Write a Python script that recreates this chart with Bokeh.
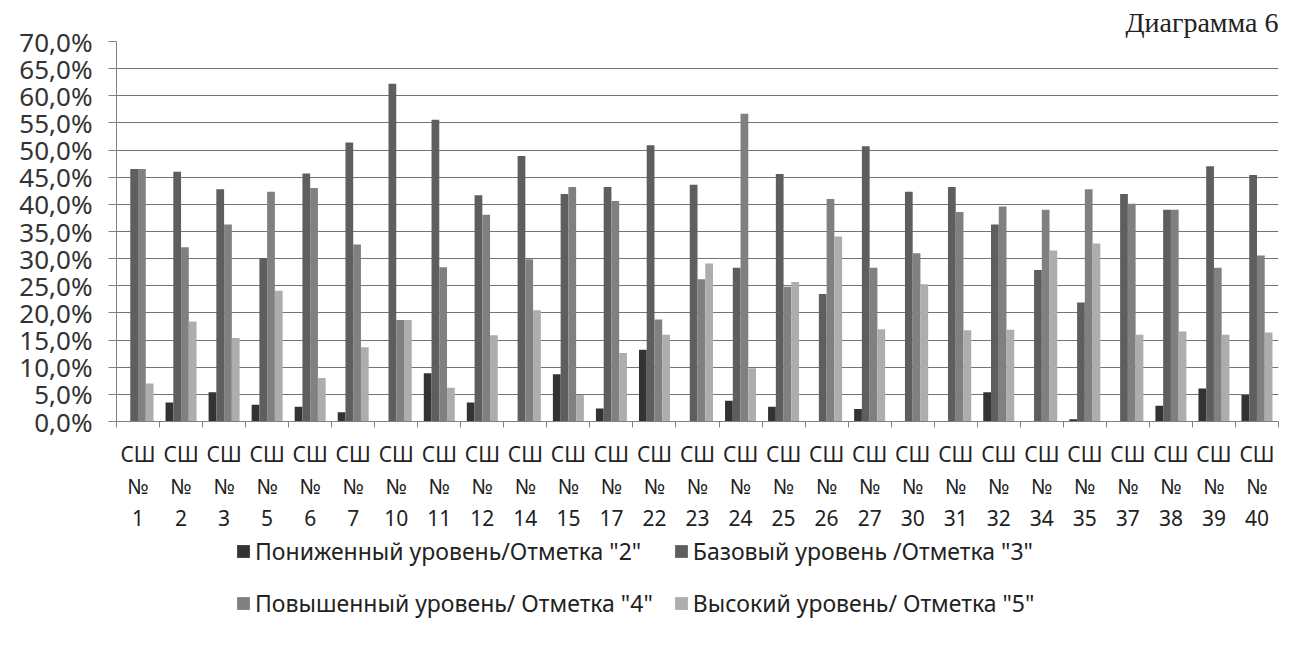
from bokeh.plotting import figure
from bokeh.models import (ColumnDataSource, Range1d, FixedTicker, Legend, LegendItem)
from bokeh.layouts import column
from bokeh.embed import file_html
from bokeh.resources import INLINE

# ---- data ----
schools = ["1", "2", "3", "5", "6", "7", "10", "11", "12", "14", "15", "17", "22", "23",
           "24", "25", "26", "27", "30", "31", "32", "34", "35", "37", "38", "39", "40"]
lvl2 = [0, 3.5, 5.4, 3.1, 2.7, 1.7, 0, 8.9, 3.5, 0, 8.7, 2.4, 13.2, 0,
        3.8, 2.7, 0, 2.3, 0, 0, 5.4, 0, 0.4, 0, 2.9, 6.1, 4.9]
lvl3 = [46.5, 46.0, 42.8, 30.1, 45.7, 51.4, 62.2, 55.6, 41.7, 48.9, 41.9, 43.2, 50.9, 43.6,
        28.3, 45.6, 23.5, 50.7, 42.3, 43.2, 36.3, 27.9, 21.9, 41.9, 39.0, 47.0, 45.4]
lvl4 = [46.5, 32.1, 36.3, 42.3, 43.0, 32.6, 18.7, 28.4, 38.1, 29.9, 43.2, 40.6, 18.8, 26.2,
        56.7, 24.8, 41.0, 28.3, 31.0, 38.6, 39.6, 39.0, 42.8, 40.1, 39.0, 28.3, 30.6]
lvl5 = [7.0, 18.4, 15.4, 24.1, 8.0, 13.7, 18.7, 6.2, 15.9, 20.5, 4.9, 12.6, 16.0, 29.1,
        9.8, 25.7, 34.1, 17.0, 25.3, 16.8, 16.9, 31.5, 32.8, 16.0, 16.6, 16.0, 16.4]
series_names = ['Пониженный уровень/Отметка "2"', 'Базовый уровень /Отметка "3"',
                'Повышенный уровень/ Отметка "4"', 'Высокий уровень/ Отметка "5"']
y_ticks = list(range(0, 75, 5))

colors = ["#333333", "#5e5e5e", "#808080", "#adadad"]
FONT = "Noto Sans"
W = 1283
H_MAIN = 534
H_LEG = 108

n = len(schools)
p = figure(width=W, height=H_MAIN, output_backend="svg", toolbar_location=None,
           x_range=Range1d(0, n), y_range=Range1d(0, 70),
           min_border_left=116, min_border_right=5, min_border_top=38, min_border_bottom=112)

p.title.text = "Диаграмма 6"
p.title.align = "right"
p.title.text_font = "Liberation Serif"
p.title.text_font_style = "normal"
p.title.text_font_size = "28px"
p.title.text_line_height = 1.0
p.title.text_color = "#222222"
p.title.offset = 0
p.title.standoff = 8

bw = 0.18
offs = [-0.27, -0.09, 0.09, 0.27]
sources = []
for vals, off, col in zip([lvl2, lvl3, lvl4, lvl5], offs, colors):
    src = ColumnDataSource(dict(x=[i + 0.5 + off for i in range(n)], top=vals))
    sources.append(src)
    p.vbar(x="x", top="top", width=bw, bottom=0, source=src,
           fill_color=col, line_color=None)

# axes
p.outline_line_color = None
p.xgrid.visible = False
p.ygrid.ticker = FixedTicker(ticks=y_ticks)
p.ygrid.grid_line_color = "#747474"
p.ygrid.grid_line_width = 1

yax = p.yaxis[0]
yax.ticker = FixedTicker(ticks=y_ticks)
yax.major_label_overrides = {v: f"{v},0%" for v in y_ticks}
yax.major_label_text_font = FONT
yax.major_label_text_font_size = "26px"
yax.major_label_text_color = "#333333"
yax.axis_line_color = "#808080"
yax.major_tick_line_color = "#808080"
yax.major_tick_out = 8
yax.major_tick_in = 0
yax.minor_tick_line_color = None
yax.major_label_standoff = 16

xax = p.xaxis[0]
xax.ticker = FixedTicker(ticks=[i + 0.5 for i in range(n)], minor_ticks=list(range(n + 1)))
xax.major_label_overrides = {i + 0.5: f"СШ\n№\n{s}" for i, s in enumerate(schools)}
xax.major_label_text_font = FONT
xax.major_label_text_font_size = "21px"
xax.major_label_text_color = "#222222"
xax.major_label_text_line_height = 1.15
xax.major_label_orientation = "horizontal"
xax.axis_line_color = "#808080"
xax.major_tick_line_color = None
xax.major_tick_out = 0
xax.major_tick_in = 0
xax.minor_tick_line_color = "#808080"
xax.minor_tick_out = 6
xax.minor_tick_in = 0
xax.major_label_standoff = 12

# ---- legend panel (frame is aligned with the chart frame by the column layout) ----
pl = figure(width=W, height=H_LEG, output_backend="svg", toolbar_location=None,
            x_range=Range1d(0, n), y_range=Range1d(1000, 1001),
            min_border_left=116, min_border_right=5, min_border_top=0, min_border_bottom=0)
pl.axis.visible = False
pl.grid.visible = False
pl.outline_line_color = None
swatches = []
for src, col in zip(sources, colors):
    swatches.append(pl.vbar(x="x", top="top", width=bw, bottom=0, source=src,
                            fill_color=col, line_color=None))
items = [LegendItem(label=nm, renderers=[r]) for nm, r in zip(series_names, swatches)]
leg = Legend(items=items, location=(119, 23), orientation="horizontal", ncols=2,
             label_text_font=FONT, label_text_font_size="23px", label_text_color="#222222",
             glyph_width=16, glyph_height=16, label_standoff=4, spacing=20,
             padding=0, margin=0, border_line_color=None, background_fill_alpha=0,
             label_height=26)
pl.add_layout(leg, "center")

layout = column(p, pl, spacing=0)
open("out.html", "w").write(file_html(layout, INLINE))
